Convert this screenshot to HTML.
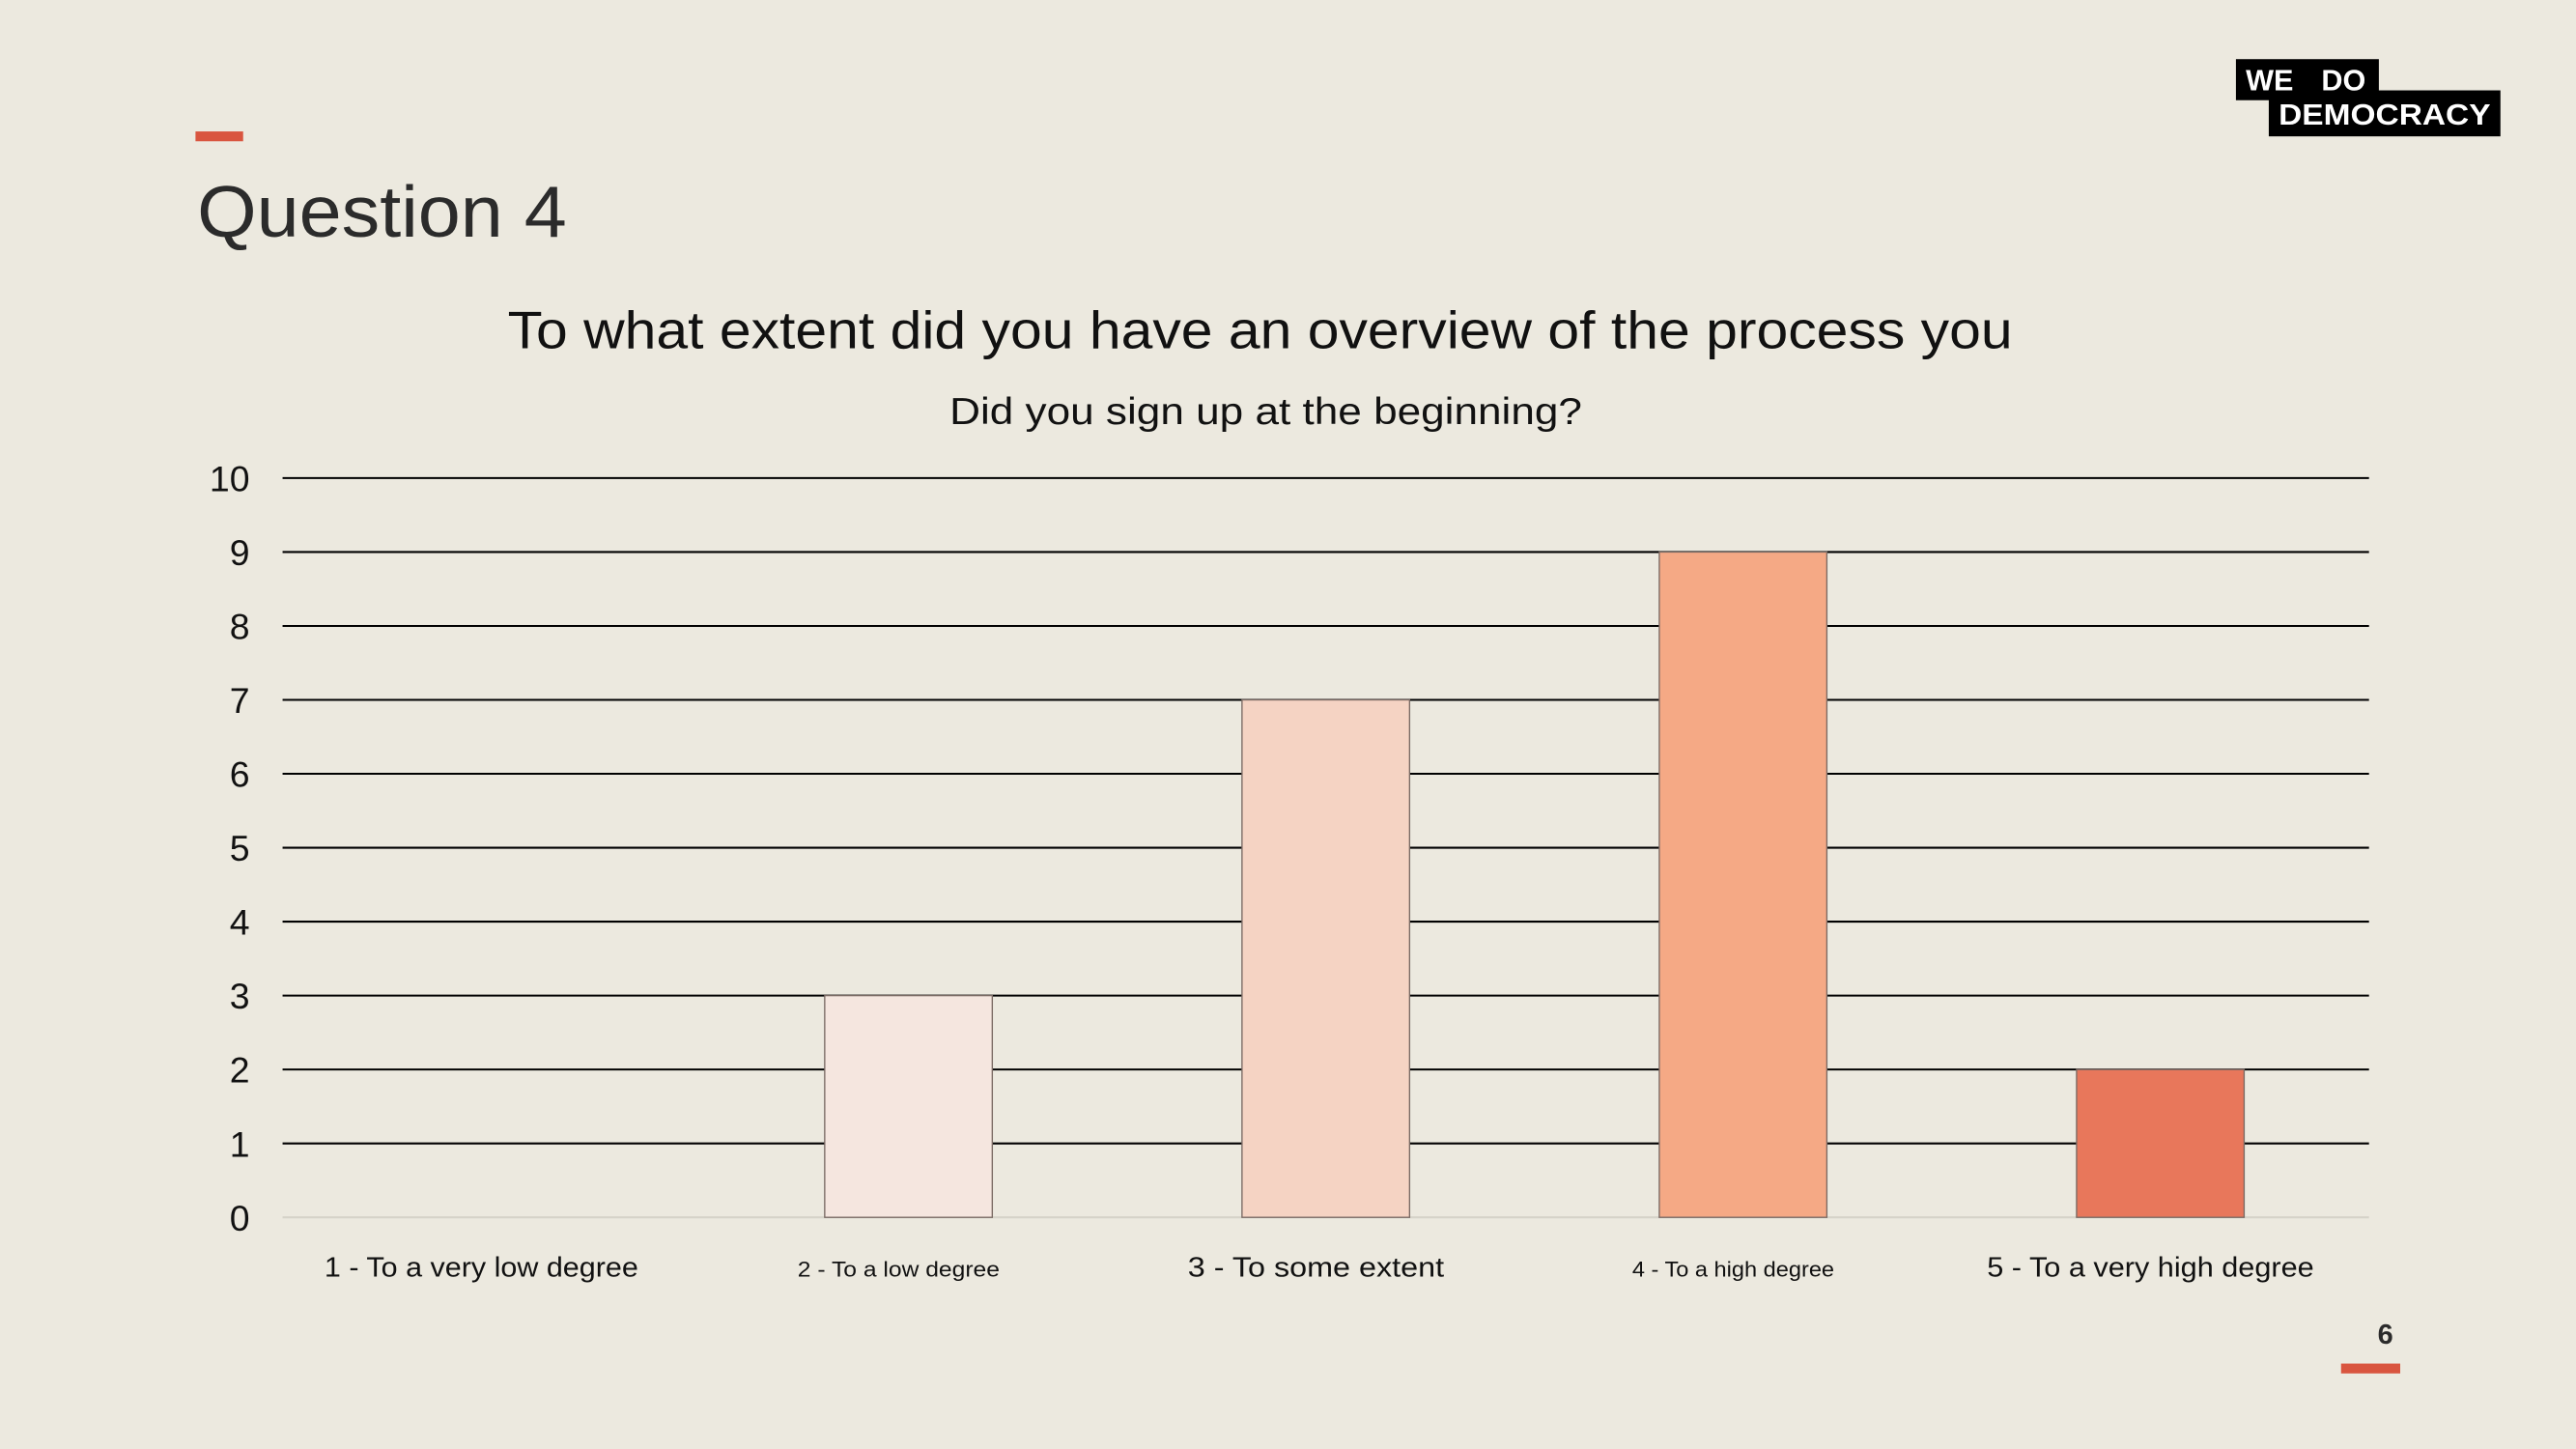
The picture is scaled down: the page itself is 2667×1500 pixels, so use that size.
<!DOCTYPE html>
<html>
<head>
<meta charset="utf-8">
<style>
  html,body{margin:0;padding:0;background:#ECE9DF;}
  svg{display:block;font-family:"Liberation Sans","DejaVu Sans",sans-serif;}
</style>
</head>
<body>
<svg id="chart" width="2667" height="1500" viewBox="0 0 1568 882" preserveAspectRatio="none" xmlns="http://www.w3.org/2000/svg">
  <rect x="0" y="0" width="1568" height="882" fill="#ECE9DF"/>
  <rect x="119" y="80" width="29" height="6" fill="#D9553F"/>
  <text x="120" y="144" font-size="44" fill="#2b2b2b" textLength="225" lengthAdjust="spacingAndGlyphs">Question 4</text>
  <g>
    <rect x="1361" y="36" width="87" height="25" fill="#000"/>
    <rect x="1381" y="55" width="141" height="28" fill="#000"/>
    <text x="1367" y="55" font-size="18" font-weight="bold" fill="#fff">WE</text>
    <text x="1413" y="55" font-size="18" font-weight="bold" fill="#fff">DO</text>
    <text x="1387" y="76" font-size="18" font-weight="bold" fill="#fff" textLength="129" lengthAdjust="spacingAndGlyphs">DEMOCRACY</text>
  </g>
  <text x="309" y="212" font-size="32" fill="#111" textLength="916" lengthAdjust="spacingAndGlyphs">To what extent did you have an overview of the process you</text>
  <text x="578" y="258" font-size="23" fill="#111" textLength="385" lengthAdjust="spacingAndGlyphs">Did you sign up at the beginning?</text>
  <g id="grid"></g>
  <g id="yticks"></g>
  <g id="bars"></g>
  <g id="xlabels"></g>
  <text x="1452" y="818" font-size="17" font-weight="bold" text-anchor="middle" fill="#2b2b2b">6</text>
  <rect x="1425" y="830" width="36" height="6" fill="#D9553F"/>
</svg>
<script>
const categories = ["1 - To a very low degree","2 - To a low degree","3 - To some extent","4 - To a high degree","5 - To a very high degree"];
const values = [0,3,7,9,2];
const yTicks = [0,1,2,3,4,5,6,7,8,9,10];
const barColors = ["#F5E6DF","#F5E6DF","#F5D3C3","#F5A985","#E8775B"];
const labelSizes = [17,13,17,13,17];
const labelWidths = [191,123,156,123,199];

const NS="http://www.w3.org/2000/svg";
const x0=172,x1=1442,yTop=291,yBot=741,yMax=10;
const y=v=>yBot-(v/yMax)*(yBot-yTop);
const band=(x1-x0)/categories.length;
const xc=i=>x0+band*(i+0.5);
function mk(tag,attrs,parent){const e=document.createElementNS(NS,tag);for(const k in attrs)e.setAttribute(k,attrs[k]);parent.appendChild(e);return e;}
const grid=document.getElementById('grid'),yt=document.getElementById('yticks'),bars=document.getElementById('bars'),xl=document.getElementById('xlabels');
yTicks.forEach(t=>{
  const l=mk('line',{x1:x0,x2:x1,y1:y(t),y2:y(t),stroke:t===0?'#d6d3c9':'#000','stroke-width':1.2},grid);
  
  
  const tx=mk('text',{x:152,y:y(t)+8,'font-size':22,'text-anchor':'end',fill:'#111'},yt);
  tx.textContent=t;
  
  
});
values.forEach((v,i)=>{
  const w=102;
  if(v>0){
    const r=mk('rect',{x:xc(i)-w/2,y:y(v),width:w,height:yBot-y(v),fill:barColors[i],stroke:'#7a6a64','stroke-width':0.8},bars);
    
    
  }
  const tx=mk('text',{x:xc(i)-6-labelWidths[i]/2,y:777,'font-size':labelSizes[i],fill:'#111',textLength:labelWidths[i],lengthAdjust:'spacingAndGlyphs'},xl);
  tx.textContent=categories[i];
  
  
});
</script>
</body>
</html>
